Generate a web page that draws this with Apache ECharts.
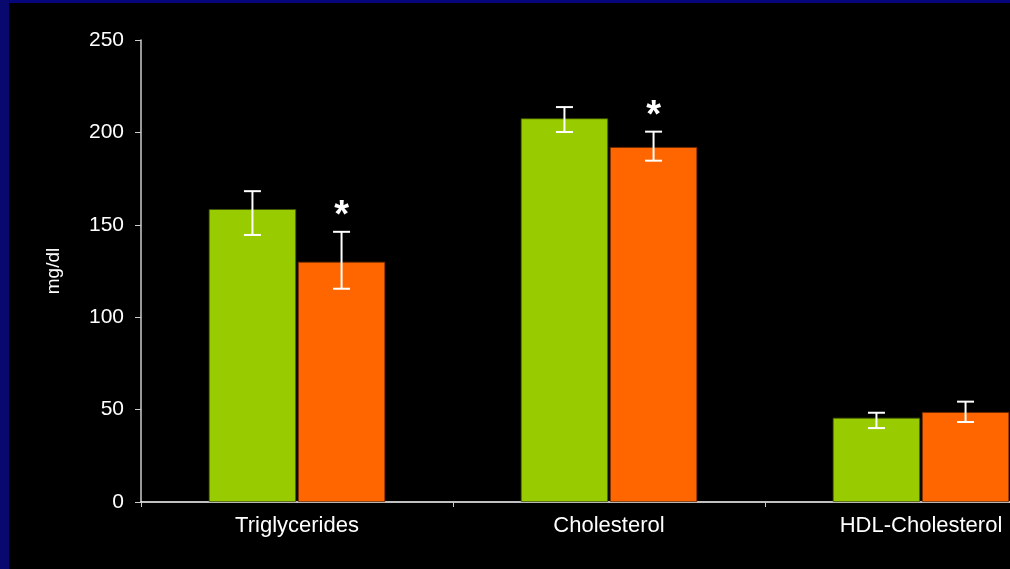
<!DOCTYPE html>
<html>
<head>
<meta charset="utf-8">
<script src="https://cdn.jsdelivr.net/npm/echarts@6/dist/echarts.min.js"></script>
<style>
  html, body { margin: 0; padding: 0; background: #000; }
  #chart { width: 1010px; height: 569px; }
</style>
</head>
<body>
<div id="chart"></div>
<script>
// Lipid values (mg/dl), mean with error-bar ends
const categories = ['Triglycerides', 'Cholesterol', 'HDL-Cholesterol'];
const beforeMean = [158.5, 207.6, 45.6];
const beforeLow  = [144.5, 200.2, 40.0];
const beforeHigh = [168.2, 213.7, 48.3];
const afterMean  = [130.0, 192.1, 48.7];
const afterLow   = [115.4, 184.7, 43.3];
const afterHigh  = [146.2, 200.4, 54.3];
const significance = ['*', '*', ''];
const yTicks = [0, 50, 100, 150, 200, 250];

const FONT = 'Arial, "Liberation Sans", sans-serif';
const BAR_W = 0.28;   // bar width as a share of the category band
const BAR_GAP = 0.02; // gap between the two bars, share of bar width

function errorBars(low, high, side, stars) {
  const data = categories.map((c, i) => [i, low[i], high[i], stars ? stars[i] : '']);
  return {
    type: 'custom',
    z: 5,
    clip: false,
    data: data,
    encode: { x: 0, y: [1, 2] },
    renderItem: function (params, api) {
      const band = api.size([1, 0])[0];
      const bw = band * BAR_W;
      const offset = side * (bw + bw * BAR_GAP) / 2;
      const lo = api.coord([api.value(0), api.value(1)]);
      const hi = api.coord([api.value(0), api.value(2)]);
      const x = lo[0] + offset;
      const cap = 8.5;
      const style = { stroke: '#ffffff', lineWidth: 2 };
      const children = [
        { type: 'line', shape: { x1: x, y1: lo[1], x2: x, y2: hi[1] }, style: style },
        { type: 'line', shape: { x1: x - cap, y1: lo[1], x2: x + cap, y2: lo[1] }, style: style },
        { type: 'line', shape: { x1: x - cap, y1: hi[1], x2: x + cap, y2: hi[1] }, style: style }
      ];
      const mark = api.value(3);
      if (mark) {
        children.push({
          type: 'text',
          style: {
            text: mark, x: x, y: hi[1] - 15,
            fill: '#ffffff', font: 'bold 38px ' + FONT,
            align: 'center', verticalAlign: 'middle'
          }
        });
      }
      return { type: 'group', children: children };
    }
  };
}

const chart = echarts.init(document.getElementById('chart'), null, { renderer: 'canvas' });
chart.setOption({
  backgroundColor: '#000000',
  animation: false,
  graphic: [
    { type: 'rect', left: 0, top: 0, shape: { width: 1010, height: 3 }, style: { fill: '#06067a' }, z: 100 },
    { type: 'rect', left: 0, top: 0, shape: { width: 9, height: 569 }, style: { fill: '#08086e' }, z: 100 }
  ],
  grid: {
    left: 141, top: 40, bottom: 67, width: 936,
    containLabel: false, outerBoundsMode: 'none'
  },
  xAxis: {
    type: 'category',
    data: categories,
    axisLine: { lineStyle: { color: '#ffffff', width: 1.5 } },
    axisTick: { show: true, length: 5, lineStyle: { color: '#cccccc' } },
    axisLabel: { color: '#ffffff', fontSize: 22, fontFamily: FONT, margin: 13 }
  },
  yAxis: {
    type: 'value',
    min: yTicks[0],
    max: yTicks[yTicks.length - 1],
    interval: 50,
    name: 'mg/dl',
    nameLocation: 'middle',
    nameGap: 78,
    nameRotate: 90,
    nameTextStyle: { color: '#ffffff', fontSize: 19, fontFamily: FONT },
    axisLine: { show: true, lineStyle: { color: '#cccccc', width: 1.5 } },
    axisTick: { show: true, length: 6, lineStyle: { color: '#cccccc' } },
    splitLine: { show: false },
    axisLabel: { color: '#ffffff', fontSize: 21, fontFamily: FONT, margin: 17 }
  },
  series: [
    {
      name: 'Before',
      type: 'bar',
      data: beforeMean,
      barWidth: (BAR_W * 100) + '%',
      barGap: (BAR_GAP * 100) + '%',
      itemStyle: { color: '#99cc00', borderColor: '#3d5200', borderWidth: 0.8 }
    },
    {
      name: 'After',
      type: 'bar',
      data: afterMean,
      barWidth: (BAR_W * 100) + '%',
      itemStyle: { color: '#ff6600', borderColor: '#662800', borderWidth: 0.8 }
    },
    errorBars(beforeLow, beforeHigh, -1, null),
    errorBars(afterLow, afterHigh, 1, significance)
  ]
});
</script>
</body>
</html>
